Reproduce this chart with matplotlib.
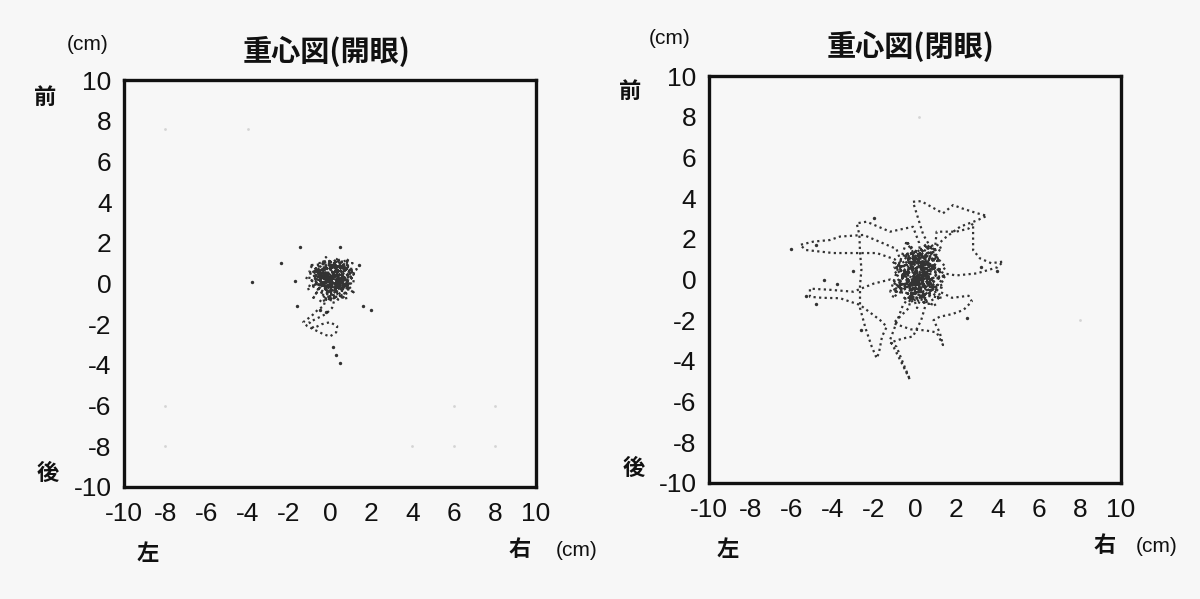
import matplotlib
matplotlib.use("Agg")
import matplotlib.pyplot as plt

NUM_FONT = "Liberation Sans"
CJK = "Noto Sans CJK JP"
plt.rcParams['font.family'] = [NUM_FONT, CJK, 'DejaVu Sans']

# ---------------- data ----------------
titles = ["重心図(開眼)", "重心図(閉眼)"]
tick_values = [-10, -8, -6, -4, -2, 0, 2, 4, 6, 8, 10]
tick_labels = ["-10", "-8", "-6", "-4", "-2", "0", "2", "4", "6", "8", "10"]

# eyes open: sway path (cm)
open_x = [0.1, 0.8, -0.4, 0.9, -0.8, 0.3, 1.1, -0.5, 0.4, -1.0, 0.2, 1.2, -0.2, -1.1, 0.6, 0.0,
          -0.6, 0.9, 0.3, -1.2, 0.7, -0.3, 1.3, 0.1, -0.8, 0.4, 0.8, -0.5, 1.2, -0.1, -0.7, 0.5,
          0.2, -1.0, 1.0, -0.2, 0.6, -0.6, 0.3, 1.1, -0.4, 0.0, 0.9, -0.9, 0.4, -0.1, 0.7, -0.5,
          0.5, 1.0, -0.3, 0.2, -0.9, 0.8, -0.2, 1.2, 0.0, -0.7, 0.6, 0.1,
          -0.3, -0.6, -0.9, -1.3, -1.1, -0.7, -0.3, 0.0, 0.3, 0.35, 0.0, -0.4, -0.8, -1.0, -0.6,
          -0.2, 0.1,
          0.3, 0.7, -0.3, 0.9, 0.1, -0.8, 0.6, 1.2, 0.3, -0.6, 0.0, 1.0, -0.4, 0.5, -1.0, 0.2,
          0.9, -0.1, 0.4, -0.5, 0.8, 0.0, -0.8, 0.6]
open_y = [0.2, 0.9, 0.7, -0.3, 0.0, 1.2, 0.4, -0.5, -0.8, 0.6, 0.4, -0.5, 1.3, -0.3, 0.5, -0.9,
          1.0, 1.1, -0.4, 0.3, 0.1, -0.2, 0.7, 0.8, -0.7, 1.3, -0.8, 0.4, 0.1, -0.6, 0.8, -0.1,
          1.0, 0.5, -0.1, 0.1, 0.8, -0.3, 0.6, 1.0, 1.1, -0.3, 0.3, -0.1, 0.0, 0.5, 0.6, -0.9,
          -0.6, 0.8, 0.9, -0.1, 0.9, -0.5, -0.8, 0.4, 1.1, 0.2, -0.3, 0.6,
          -1.1, -1.3, -1.6, -1.9, -2.1, -2.3, -2.5, -2.6, -2.4, -2.1, -1.9, -2.0, -2.2, -1.9, -1.7,
          -1.5, -1.2,
          -0.5, 0.3, 0.6, 1.2, 0.3, 0.4, -0.7, 0.6, 0.9, 0.6, 0.0, 0.5, -0.4, 1.0, 0.9, -0.2,
          -0.2, 1.2, 0.4, 0.0, 0.7, -0.5, 0.6, 0.2]
open_stray_x = [-3.8, -2.4, -1.45, 0.5, 2.0, 1.6, -1.6, 0.15, 0.5, 0.3, -1.7, 1.4, -0.5, -0.2]
open_stray_y = [0.07, 1.0, 1.8, 1.8, -1.3, -1.1, -1.1, -3.1, -3.9, -3.5, 0.1, 0.9, -1.3, -1.4]
open_faint_x = [-8, -4, -8, -8, 4, 6, 8, 6, 8]
open_faint_y = [7.6, 7.6, -6, -8, -8, -8, -8, -6, -6]

# eyes closed: sway path (cm)
closed_x = [0.3, 1.0, -0.5, 1.3, -0.8, 0.5, 1.5, -0.3, 0.7, -1.1, 0.2, 1.2, -0.4, -1.2, 0.8, 0.1,
            -0.9,
            -1.6, -2.5, -3.64, -4.13, -4.94, -5.58, -5.3, -3.97, -2.9, -1.86, -1.0,
            -0.2, 0.9, -0.6, 1.1, 0.3, -1.0, 0.6, 1.5, 0.0, 1.3, -0.7, 0.4,
            0.2, -0.1, -1.21, -2.35, -2.83, -2.7, -2.67, -2.6, -2.67, -2.67, -2.4, -2.1, -1.86, -1.75,
            -1.6, -1.37, -1.7, -2.67, -3.64, -4.5, -5.1, -5.1, -4.2, -3.0, -2.0, -1.2,
            0.1, 1.2, -0.5, 0.7, -1.0, 1.0, 0.0, -0.7, 1.2, 0.4, -0.3, 0.9,
            1.0, 1.05, 2.0, 2.6, 2.82, 2.82, 2.82, 3.15, 3.7, 4.28, 4.0, 3.0, 2.0, 1.4,
            0.4, -0.9, 0.8, -0.2, 1.4, 0.1, -1.1, 0.6, -0.5, 1.1,
            0.4, -0.1, 0.3, 1.36, 1.85, 2.27, 3.0, 3.49, 3.0, 2.2, 1.4, 0.9,
            0.2, -0.8, 1.2, -0.4, 0.5, -1.0, 0.9, 0.0,
            -0.3, -1.05, -0.2, 0.5, 1.05, 1.36, 1.2, 0.9, 1.2, 1.8, 2.35, 2.76, 2.6, 1.8, 1.2,
            0.1, 0.7, -0.6, 1.0, -0.2, 1.3, -0.9, 0.4, -0.4, 0.8,
            -0.6, -1.21, -0.97, -0.6, -0.24, -0.5, -0.9, -1.2, -0.6, -0.1, 0.3, 0.5,
            0.0, 0.7, -1.0, 0.5, -0.3, 1.2, -0.6, 0.9, 0.2, -0.2, 1.4, -0.8, 0.3, 0.6]
closed_y = [0.3, 1.2, 0.9, -0.4, -0.2, 1.7, 0.6, -0.9, -1.2, 0.9, 0.0, -1.0, 1.9, -0.6, 0.5, -1.4,
            1.5,
            1.8, 2.19, 2.11, 1.94, 1.86, 1.70, 1.45, 1.30, 1.3, 1.30, 1.0,
            0.4, -0.3, -1.0, 0.9, 1.3, 0.3, -0.8, 0.2, -0.3, 1.6, 0.6, -0.6,
            1.8, 2.59, 2.35, 2.84, 2.76, 2.2, 1.35, 0.5, -0.3, -1.4, -2.4, -3.3, -3.87, -3.6,
            -2.8, -2.32, -1.99, -1.25, -0.92, -0.9, -0.85, -0.45, -0.5, -0.6, -0.2, 0.0,
            -0.6, 0.4, 1.1, 1.7, -0.4, -1.3, 0.6, 0.2, 1.1, -0.2, -1.1, 0.8,
            1.8, 2.35, 2.35, 2.5, 2.76, 2.0, 1.45, 1.04, 0.8, 0.88, 0.6, 0.3, 0.2, 0.3,
            0.9, 0.6, -0.6, -1.1, -0.2, 1.5, -0.9, 0.3, 1.3, 1.0,
            2.2, 3.82, 3.85, 3.25, 3.66, 3.5, 3.26, 3.13, 2.9, 2.6, 2.0, 1.5,
            -0.2, -0.5, 0.5, 1.2, -1.0, 0.6, 1.7, 0.2,
            -1.4, -2.15, -2.45, -2.5, -2.6, -3.22, -2.6, -2.0, -1.83, -1.7, -1.5, -1.08, -0.8, -0.9, -0.6,
            0.1, 1.0, 0.1, -0.4, 1.3, -0.9, -0.6, 0.6, 1.8, 0.7,
            -1.3, -2.97, -3.46, -4.2, -4.94, -4.3, -3.3, -3.1, -2.9, -2.8, -2.0, -1.3,
            0.4, 1.4, -0.2, -0.9, 0.9, 0.5, 1.2, -0.5, 1.1, -0.8, 0.2, -0.3, 0.0, 0.6]
closed_stray_x = [-6.0, -4.8, -4.4, -3.0, -2.0, 2.5, 4.0, -2.6, -3.8, -4.8, -5.3, 3.2]
closed_stray_y = [1.5, 1.7, 0.0, 0.4, 3.0, -1.9, 0.4, -2.5, -0.2, -1.2, -0.8, 0.6]
closed_faint_x = [0.2, 8.0]
closed_faint_y = [8.0, -2.0]

# ---------------- figure ----------------
BG = "#f7f7f7"
fig = plt.figure(figsize=(12, 5.99), dpi=100, facecolor=BG)

W, H = 1200, 599
def fx(px):
    return px / W
def fy(py):
    return 1 - py / H

axes_boxes = [(124, 80, 536, 487), (709, 76, 1121, 483)]
paths = [(open_x, open_y, open_stray_x, open_stray_y, open_faint_x, open_faint_y),
         (closed_x, closed_y, closed_stray_x, closed_stray_y, closed_faint_x, closed_faint_y)]

for i, (l, t, r, b) in enumerate(axes_boxes):
    ax = fig.add_axes([fx(l), fy(b), (r - l) / W, (b - t) / H])
    ax.set_facecolor(BG)
    px, py, sx, sy, gx, gy = paths[i]
    ax.plot(px, py, color="#111111", lw=1.6, linestyle=(0, (1.0, 1.5)), alpha=0.85,
            dash_capstyle="butt")
    ax.scatter(sx, sy, s=6, color="#333333", linewidths=0)
    ax.scatter(gx, gy, s=4, color="#d4d4d4", linewidths=0)
    ax.set_xlim(-10, 10)
    ax.set_ylim(-10, 10)
    ax.set_xticks(tick_values)
    ax.set_yticks(tick_values)
    ax.set_xticklabels(tick_labels)
    ax.set_yticklabels(tick_labels)
    ax.tick_params(length=0, labelsize=19, pad=9, colors="#111111")
    ax.tick_params(axis="x", pad=11)
    for sp in ax.spines.values():
        sp.set_linewidth(2.4)
        sp.set_color("#111111")

# text labels
cjk = [CJK, 'DejaVu Sans']
labels = [
    # (x_px, y_px, text, size, weight, family)
    (88, 45, "(cm)", 15, "normal", [NUM_FONT, CJK]),
    (327, 52, titles[0], 21, "bold", cjk),
    (45, 97, "前", 16, "bold", cjk),
    (48, 473, "後", 16, "bold", cjk),
    (148, 553, "左", 16, "bold", cjk),
    (520, 550, "右", 16, "bold", cjk),
    (577, 551, "(cm)", 15, "normal", [NUM_FONT, CJK]),
    (670, 39, "(cm)", 15, "normal", [NUM_FONT, CJK]),
    (911, 47, titles[1], 21, "bold", cjk),
    (630, 91, "前", 16, "bold", cjk),
    (634, 468, "後", 16, "bold", cjk),
    (728, 549, "左", 16, "bold", cjk),
    (1105, 546, "右", 16, "bold", cjk),
    (1157, 547, "(cm)", 15, "normal", [NUM_FONT, CJK]),
]
for x, y, s, size, wt, fam in labels:
    fig.text(fx(x), fy(y), s, ha="center", va="center", fontsize=size,
             fontweight=wt, family=fam, color="#111111")

fig.savefig("out.png", dpi=100, facecolor=BG)
